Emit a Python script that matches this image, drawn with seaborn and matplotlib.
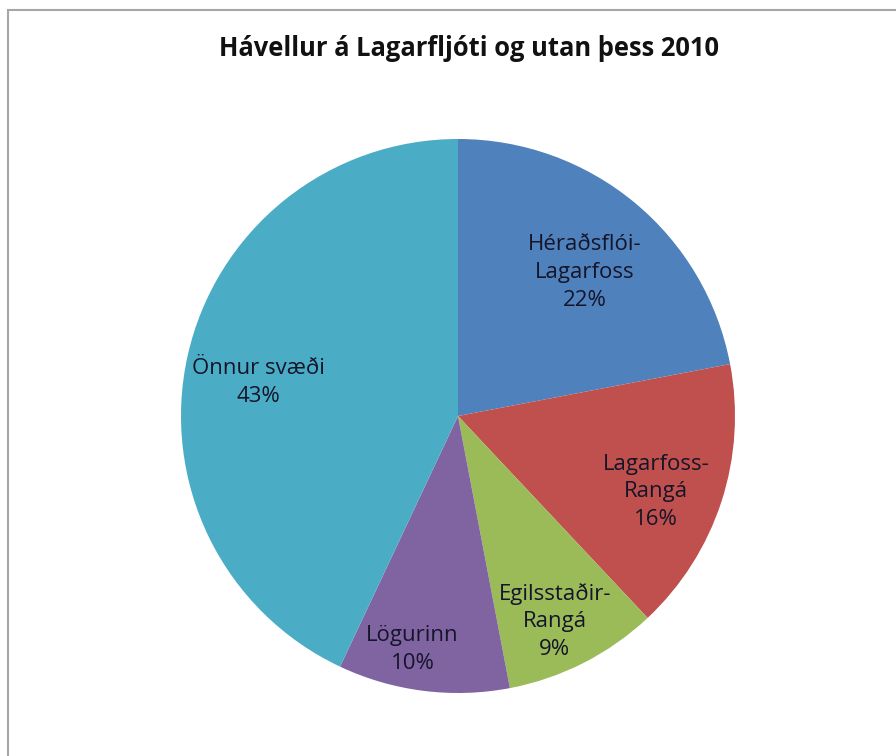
import numpy as np
import matplotlib
matplotlib.use("Agg")
import matplotlib.pyplot as plt
import seaborn as sns

sns.set_theme(style="white")
plt.rcParams["font.family"] = ["Open Sans", "DejaVu Sans"]

# ── DATA ─────────────────────────────────────────────
regions = ["Héraðsflói-\nLagarfoss", "Lagarfoss-\nRangá", "Egilsstaðir-\nRangá",
           "Lögurinn", "Önnur svæði"]
shares = [22, 16, 9, 10, 43]
colors = ["#4F81BD", "#C0504D", "#9BBB59", "#8064A2", "#4BACC6"]
title = "Hávellur á Lagarfljóti og utan þess 2010"

# label placement (fraction of radius, angle nudge in degrees)
label_dist = [0.69, 0.765, 0.82, 0.86, 0.73]
label_nudge = [-1.8, -3.0, -1.8, -3.8, 3.0]

fig = plt.figure(figsize=(8.96, 7.56), dpi=100)
W, H = 896, 756
cx, cy, r = 458, 416, 277

# frame around chart area (only top/left visible in the original)
fig.patches.append(plt.Rectangle((8 / W, -0.1), 1.2, (H - 10) / H + 0.1,
                                 transform=fig.transFigure, fill=False,
                                 edgecolor="#a6a6a6", linewidth=1.5))

ax = fig.add_axes([(cx - r) / W, (H - cy - r) / H, 2 * r / W, 2 * r / H])
wedges, _ = ax.pie(shares, colors=colors, startangle=90, counterclock=False,
                   radius=1.0, wedgeprops=dict(linewidth=0))
ax.set_xlim(-1, 1)
ax.set_ylim(-1, 1)
ax.set_aspect("equal")
ax.axis("off")

for w, name, val, d, nd in zip(wedges, regions, shares, label_dist, label_nudge):
    ang = np.deg2rad((w.theta1 + w.theta2) / 2 + nd)
    ax.text(d * np.cos(ang), d * np.sin(ang), f"{name}\n{val}%",
            ha="center", va="center", fontsize=16, color="#15152a",
            linespacing=1.42)

fig.text(469 / W, (H - 48) / H, title, ha="center", va="center",
         fontsize=18.4, fontweight="bold", color="#111111")

fig.savefig("out.png", dpi=100, facecolor="white")
